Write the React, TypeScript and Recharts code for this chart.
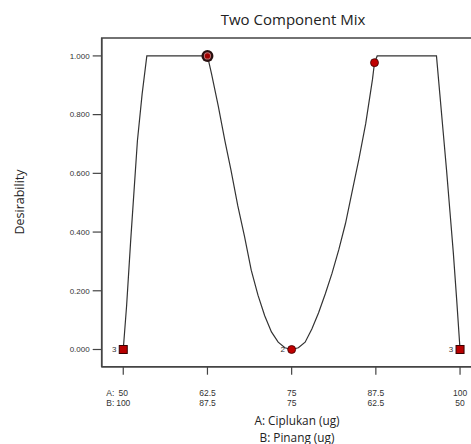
import React from "react";
import { ComposedChart, Line, Scatter, XAxis, YAxis, ReferenceArea } from "recharts";

// response curve (A level, desirability)
const curveA = [
  50, 50.5, 51.1, 52.1, 52.8, 53.5,
  62.5, 63.1, 64.1, 65.1, 66, 67, 68, 69, 70, 71, 72, 73, 74, 75,
  76, 77, 78, 79, 80, 81, 82, 83, 84, 85, 86, 87, 87.3, 87.7,
  96.5, 97, 97.5, 98, 98.5, 99, 99.5, 100,
];
const curveD = [
  0, 0.15, 0.37, 0.71, 0.87, 1,
  1, 0.94, 0.83, 0.71, 0.61, 0.49, 0.385, 0.27, 0.185, 0.115, 0.06, 0.025, 0.006, 0,
  0.006, 0.025, 0.07, 0.125, 0.19, 0.26, 0.34, 0.43, 0.54, 0.65, 0.77, 0.92, 0.977, 1,
  1, 0.87, 0.74, 0.61, 0.47, 0.33, 0.17, 0,
];

// design points
const pointA = [50, 62.5, 75, 87.3, 100];
const pointD = [0, 1, 0, 0.977, 0];
const pointKind = ["square", "current", "circle", "circle", "square"];
const pointCount = ["3", "", "2", "", "3"];

const aTicks = [50, 62.5, 75, 87.5, 100];
const bTicks = ["100", "87.5", "75", "62.5", "50"];
const yTicks = [0, 0.2, 0.4, 0.6, 0.8, 1.0];

const curveData = curveA.map((a, i) => ({ a, d: curveD[i] }));
const pointData = pointA.map((a, i) => ({ a, d: pointD[i], kind: pointKind[i], n: pointCount[i] }));

const X_MIN = 46.8;
const X_MAX = 103.2;
const Y_MIN = -0.0586;
const Y_MAX = 1.061;

const tickFont = "'Liberation Sans', Arial, sans-serif";
const titleFont = "'Open Sans', 'Noto Sans', sans-serif";

function PointShape(props: any) {
  const { cx, cy, payload } = props;
  if (cx == null || cy == null) return null;
  const label = payload.n ? (
    <text x={cx - 9} y={cy + 3} fontSize={8} fill="#333" fontFamily={tickFont} textAnchor="middle">
      {payload.n}
    </text>
  ) : null;
  if (payload.kind === "square") {
    return (
      <g>
        {label}
        <rect x={cx - 4} y={cy - 4} width={8} height={8} fill="#b80000" stroke="#3a0000" strokeWidth={1} />
      </g>
    );
  }
  if (payload.kind === "current") {
    return (
      <g>
        <circle cx={cx} cy={cy} r={6} fill="#2a1010" />
        <circle cx={cx} cy={cy} r={3.6} fill="#c27070" />
        <circle cx={cx} cy={cy} r={2.6} fill="#a00000" />
      </g>
    );
  }
  return (
    <g>
      {label}
      <circle cx={cx} cy={cy} r={4} fill="#c00000" stroke="#3a0000" strokeWidth={0.8} />
    </g>
  );
}

function XTick(props: any) {
  const { x, y, payload, index } = props;
  return (
    <g fontFamily={tickFont} fontSize={8.5} fill="#333">
      {index === 0 ? (
        <>
          <text x={x - 17} y={y + 19} fill="#333">A:</text>
          <text x={x - 17} y={y + 29} fill="#333">B:</text>
        </>
      ) : null}
      <text x={x} y={y + 19} textAnchor="middle" fill="#333">{payload.value}</text>
      <text x={x} y={y + 29} textAnchor="middle" fill="#333">{bTicks[index]}</text>
    </g>
  );
}

export default function App() {
  return (
    <div style={{ position: "absolute", left: 0, top: 0, width: 471, height: 444, overflow: "hidden", background: "#fff" }}>
      <div
        style={{
          position: "absolute",
          left: 0,
          width: 586,
          top: 9,
          textAlign: "center",
          fontFamily: titleFont,
          fontSize: 15,
          color: "#222",
        }}
      >
        Two Component Mix
      </div>
      <div
        style={{
          position: "absolute",
          left: 19,
          top: 202,
          transform: "translate(-50%, -50%) rotate(-90deg)",
          fontFamily: titleFont,
          fontSize: 12.5,
          color: "#222",
          whiteSpace: "nowrap",
        }}
      >
        Desirability
      </div>
      <div
        style={{
          position: "absolute",
          left: 0,
          width: 594,
          top: 412,
          textAlign: "center",
          fontFamily: titleFont,
          fontSize: 11.8,
          lineHeight: "17px",
          color: "#222",
        }}
      >
        A: Ciplukan (ug)
        <br />
        B: Pinang (ug)
      </div>
      <ComposedChart
        width={500}
        height={444}
        margin={{ top: 38, left: 71.7, right: 18.4, bottom: 47.3 }}
        style={{ position: "absolute", left: 0, top: 0 }}
      >
        <XAxis
          type="number"
          dataKey="a"
          domain={[X_MIN, X_MAX]}
          ticks={aTicks}
          allowDataOverflow
          height={30}
          tickSize={8}
          tick={<XTick />}
          axisLine={{ stroke: "#444", strokeWidth: 1.5 }}
          tickLine={{ stroke: "#444", strokeWidth: 1.2 }}
        />
        <YAxis
          type="number"
          dataKey="d"
          domain={[Y_MIN, Y_MAX]}
          ticks={yTicks}
          allowDataOverflow
          width={30}
          tickSize={9}
          tickMargin={3}
          tickFormatter={(v) => Number(v).toFixed(3)}
          tick={{ fontSize: 8, fill: "#333", fontFamily: tickFont }}
          axisLine={{ stroke: "#444", strokeWidth: 1.5 }}
          tickLine={{ stroke: "#444", strokeWidth: 1.2 }}
        />
        <ReferenceArea x1={X_MIN} x2={X_MAX} y1={Y_MIN} y2={Y_MAX} fill="none" stroke="#444" strokeWidth={1.5} />
        <Line
          data={curveData}
          dataKey="d"
          type="linear"
          stroke="#333"
          strokeWidth={1.2}
          dot={false}
          activeDot={false}
          isAnimationActive={false}
        />
        <Scatter data={pointData} dataKey="d" shape={<PointShape />} isAnimationActive={false} />
      </ComposedChart>
    </div>
  );
}
